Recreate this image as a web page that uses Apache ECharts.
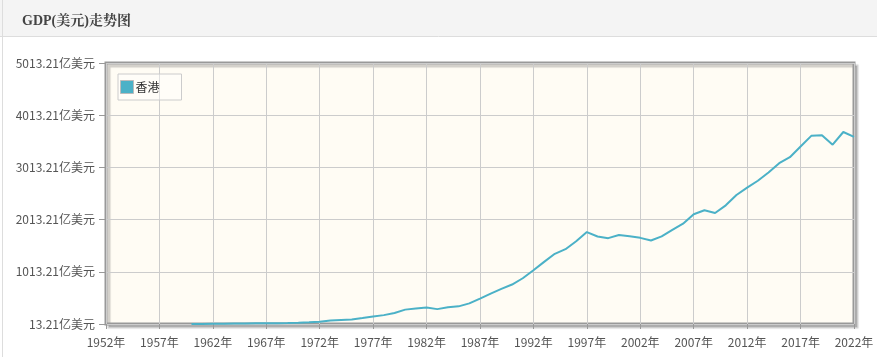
<!DOCTYPE html>
<html>
<head>
<meta charset="utf-8">
<script src="https://cdn.jsdelivr.net/npm/echarts@6/dist/echarts.min.js"></script>
<style>
html,body{margin:0;padding:0;background:#fff;}
#c{width:877px;height:357px;}
</style>
</head>
<body>
<div id="c"></div>
<script>
const titleText = 'GDP(美元)走势图';
const seriesName = '香港';
const years = [];
for (let y = 1952; y <= 2022; y++) years.push(String(y));
// GDP in 亿美元, 1952-2022 (null before 1960)
const gdp = [
  null, null, null, null, null, null, null, null,
  13.21, 14.16, 16.79, 19.11, 21.76, 24.37, 25.75, 27.52, 27.13, 31.77,
  37.99, 44.52, 56.93, 79.03, 90.42, 100.05, 128.83, 158.01, 183.16, 225.25,
  288.62, 310.55, 327.11, 298.32, 335.14, 351.01, 408.53, 500.78, 595.40, 685.62,
  769.28, 889.60, 1042.72, 1203.54, 1358.12, 1446.53, 1597.18, 1773.53, 1688.86, 1657.73,
  1716.68, 1694.03, 1663.49, 1613.85, 1690.99, 1815.70, 1935.36, 2115.97, 2192.80, 2140.46,
  2286.38, 2485.14, 2626.29, 2756.97, 2914.60, 3093.86, 3208.61, 3412.74, 3617.31, 3630.74,
  3449.31, 3691.74, 3598.39
];
const yMin = 13.21;
const yMax = 5013.21;
const yStep = 1000;
const unit = '亿美元';

const chart = echarts.init(document.getElementById('c'), null, {renderer: 'canvas'});
chart.setOption({
  animation: false,
  backgroundColor: '#fff',
  graphic: [
    {type: 'rect', shape: {x: 0, y: 0, width: 877, height: 36}, style: {fill: '#f4f4f4'}, z: -10},
    {type: 'line', shape: {x1: 0, y1: 36.5, x2: 877, y2: 36.5}, style: {stroke: '#dddddd', lineWidth: 1}, z: -9},
    {type: 'line', shape: {x1: 2.5, y1: 0, x2: 2.5, y2: 357}, style: {stroke: '#dddddd', lineWidth: 1}, z: -9}
  ],
  title: {
    text: titleText,
    left: 17, top: 9,
    textStyle: {fontFamily: '"Liberation Serif","Noto Serif CJK SC","Noto Sans CJK SC",serif', fontSize: 14, fontWeight: 'bold', color: '#444'}
  },
  legend: {
    data: [{name: seriesName, icon: 'rect'}],
    orient: 'vertical',
    left: 118, top: 74,
    itemWidth: 13, itemHeight: 13, itemGap: 0,
    padding: [6, 22, 6, 2],
    borderColor: '#cccccc', borderWidth: 1,
    backgroundColor: 'rgba(255,255,255,0.4)',
    textStyle: {fontSize: 12, color: '#333', padding: [0, 0, 0, -3], fontFamily: '"Noto Sans CJK SC",sans-serif'},
    itemStyle: {borderColor: '#bbbbbb', borderWidth: 1}
  },
  grid: {
    left: 106, top: 63, right: 23, bottom: 33,
    show: true,
    backgroundColor: '#fffcf4',
    borderColor: '#999999', borderWidth: 3,
    shadowColor: 'rgba(0,0,0,0.18)', shadowBlur: 1, shadowOffsetX: 3, shadowOffsetY: 3
  },
  xAxis: {
    type: 'category',
    data: years,
    boundaryGap: false,
    axisLine: {show: false},
    axisTick: {show: true, interval: 4, length: 5, lineStyle: {color: '#999'}},
    splitLine: {show: true, interval: 4, lineStyle: {color: '#cccccc', width: 1}},
    axisLabel: {interval: 4, margin: 12, color: '#555', fontSize: 12, formatter: v => v + '年', fontFamily: '"Noto Sans CJK SC",sans-serif'}
  },
  yAxis: {
    type: 'value',
    min: yMin, max: yMax, interval: yStep,
    axisLine: {show: false},
    axisTick: {show: true, length: 7, lineStyle: {color: '#999'}},
    splitLine: {show: true, lineStyle: {color: '#cccccc', width: 1}},
    axisLabel: {margin: 11, color: '#555', fontSize: 12, formatter: v => v.toFixed(2) + unit, fontFamily: '"Noto Sans CJK SC",sans-serif'}
  },
  series: [{
    name: seriesName,
    type: 'line',
    data: gdp,
    showSymbol: false,
    symbol: 'none',
    connectNulls: false,
    lineStyle: {color: '#4bb1c7', width: 2},
    itemStyle: {color: '#4bb1c7'}
  }]
});
</script>
</body>
</html>
